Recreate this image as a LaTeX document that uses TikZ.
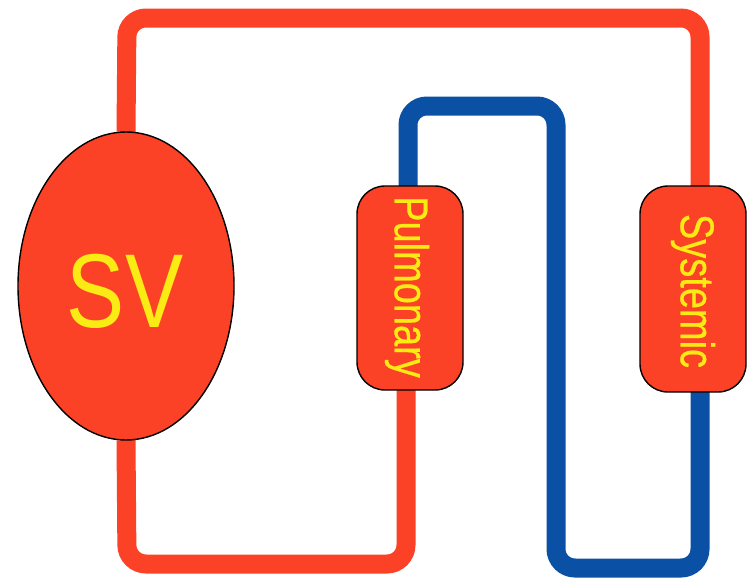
\documentclass[tikz,border=0pt]{standalone}
\usepackage{fontspec}
\setmainfont{Liberation Sans}
\newfontfamily\lblfont[FakeBold=0.6]{Liberation Sans}
\usetikzlibrary{shapes.geometric}
\definecolor{rd}{RGB}{252,66,38}
\definecolor{bl}{RGB}{10,80,165}
\definecolor{yl}{RGB}{250,235,20}
\begin{document}
\begin{tikzpicture}[x=1pt,y=-1pt,
 pipe/.style={line width=19pt,rounded corners=19pt},
 organ/.style={draw=black,line width=1.4pt,fill=rd,rounded corners=28pt,inner sep=0pt},
 lbl/.style={text=yl,font=\lblfont\fontsize{38}{38}\selectfont,rotate=-90}]
\useasboundingbox (0,0) rectangle (754,581);
\fill[white] (0,0) rectangle (754,581);
\coordinate (svp) at (126,286);
\coordinate (pulp) at (410,288);
\coordinate (sysp) at (693,289);
\node[ellipse,minimum width=216pt,minimum height=308pt,inner sep=0pt] (svb) at (svp) {};
\node[minimum width=106pt,minimum height=204pt,inner sep=0pt] (pulb) at (pulp) {};
\node[minimum width=106pt,minimum height=206pt,inner sep=0pt] (sysb) at (sysp) {};
\coordinate (a) at (127,18); \coordinate (b) at (700,18);
\coordinate (c) at (127,564); \coordinate (d) at (406,564);
\coordinate (e) at (408,106); \coordinate (f) at (556,106);
\coordinate (g) at (556,568); \coordinate (h) at (700,568);
\draw[pipe,draw=rd] (svb.north) -- (a) -- (b) -- (sysb.north -| b);
\draw[pipe,draw=rd] (svb.south) -- (c) -- (d) -- (pulb.south -| d);
\draw[pipe,draw=bl] (pulb.north -| e) -- (e) -- (f) -- (g) -- (h) -- (sysb.south -| h);
\node[ellipse,draw=black,line width=1.4pt,fill=rd,minimum width=216pt,minimum height=308pt,inner sep=0pt] (sv) at (svp) {};
\node[text=yl,font=\fontsize{105}{105}\selectfont] (svt) at (125,291) {\scalebox{0.83}[1]{SV}};
\node[organ,minimum width=106pt,minimum height=204pt] (pul) at (pulp) {};
\node[organ,minimum width=106pt,minimum height=206pt] (sys) at (sysp) {};
\node[lbl] (pult) at (407,287) {\scalebox{1}[1.25]{Pulmonary}};
\node[lbl] (syst) at (693,291) {\scalebox{1}[1.25]{Systemic}};
\end{tikzpicture}
\end{document}
